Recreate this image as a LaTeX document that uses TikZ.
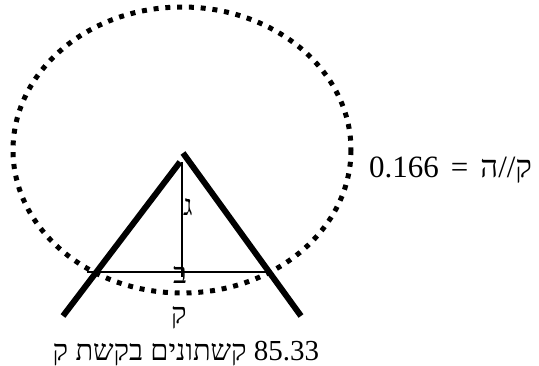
\documentclass[tikz,border=0pt]{standalone}
\usepackage{fontspec}
\setmainfont{Liberation Serif}
\TeXXeTstate=1
\begin{document}
\begin{tikzpicture}[x=1pt,y=-1pt,
  thickline/.style={line width=6pt, line cap=butt},
  thinline/.style={line width=1.4pt},
  dotring/.style={line width=5pt, dash pattern=on 5pt off 6.8pt},
  lbl/.style={inner sep=0pt, font=\fontsize{29}{29}\selectfont},
  bigtxt/.style={inner sep=0pt, font=\fontsize{29}{29}\selectfont},
  ratiotxt/.style={inner sep=0pt, font=\fontsize{31}{31}\selectfont}]
\useasboundingbox (0,0) rectangle (539,365);
% dotted ring
\draw[dotring] (182,150) ellipse [x radius=169, y radius=143];
% triangle legs
\coordinate (LB) at (63,316);
\coordinate (LT) at (180,162);
\coordinate (RT) at (183,153);
\coordinate (RB) at (301,316);
\draw[thickline] (LB) -- (LT);
\draw[thickline] (RT) -- (RB);
% height and base
\coordinate (VT) at (182,162);
\coordinate (VB) at (182,277);
\coordinate (HL) at (87,272);
\coordinate (HR) at (270,272);
\draw[thinline] (VT) -- (VB);
\draw[thinline] (HL) -- (HR);
% labels
\node[lbl, anchor=base] (g) at (188,215) {ג};
\node[lbl, anchor=base] (b) at (180,283) {ב};
\node[lbl, anchor=base] (k) at (179,323) {ק};
\node[ratiotxt, anchor=base west] (ratio) at (369,177) {\beginR ק//ה\hspace{12pt}=\hspace{12pt}\beginL 0.166\endL\endR};
\node[bigtxt, anchor=base] (arc) at (186,360) {\beginR\beginL 85.33\endL{} קשתונים בקשת ק\endR};
\end{tikzpicture}
\end{document}
